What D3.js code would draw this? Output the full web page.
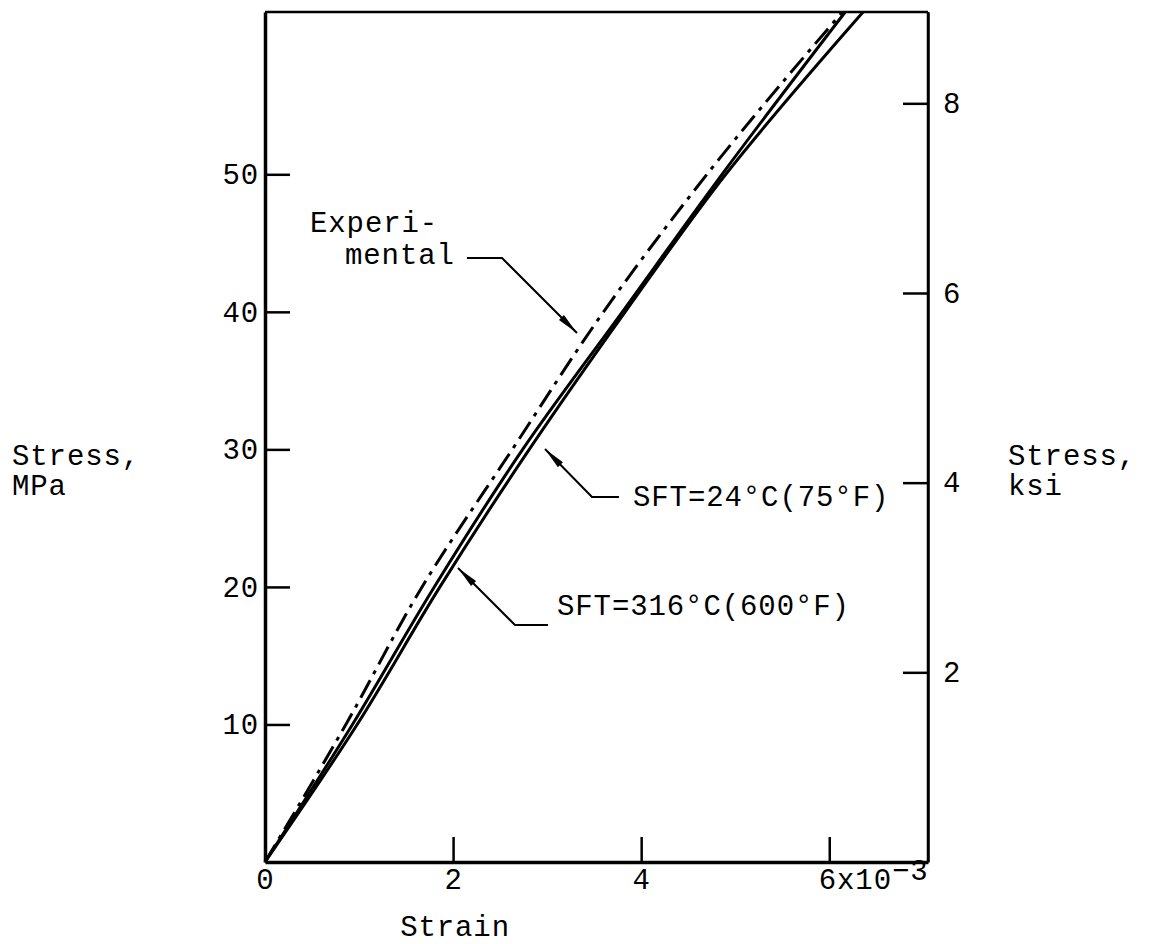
<!DOCTYPE html>
<html>
<head>
<meta charset="utf-8">
<script src="https://cdn.jsdelivr.net/npm/d3@7"></script>
<style>
  body { margin: 0; background: #fff; }
  svg text { font-family: "Liberation Mono", "DejaVu Sans Mono", monospace; font-size: 29px; letter-spacing: 0.9px; fill: #000; }
</style>
</head>
<body>
<svg id="chart" width="1176" height="944"></svg>
<script>
// ---- data (strain in 10^-3, stress in MPa) ----
const strainTicks = [0, 2, 4, 6];
const mpaTicks = [10, 20, 30, 40, 50];
const ksiTicks = [2, 4, 6, 8];

const expStrain = [0, 0.86, 1.67, 2.63, 3.60, 4.70, 6.14];
const expStress = [0, 10, 20, 30, 40, 50, 61.8];

const sft316Strain = [0, 0.93, 1.80, 2.74, 3.80, 4.86, 6.17];
const sft316Stress = [0, 10, 20, 30, 40, 50, 61.8];

const sft24Strain = [0, 0.98, 1.86, 2.81, 3.83, 4.90, 6.36];
const sft24Stress = [0, 10, 20, 30, 40, 50, 61.8];

const MPA_PER_KSI = 6.895;

// ---- layout ----
const svg = d3.select("#chart");
const L = 265, R = 928, T = 12, B = 862;

const x = d3.scaleLinear().domain([0, 7.05]).range([L, R]);
const y = d3.scaleLinear().domain([0, 61.8]).range([B, T]);
const yK = d3.scaleLinear().domain([0, 61.8 / MPA_PER_KSI]).range([B, T]);

// frame
svg.append("line").attr("x1", L).attr("x2", R).attr("y1", T).attr("y2", T).attr("stroke", "#000").attr("stroke-width", 2.5);
svg.append("line").attr("x1", R).attr("x2", R).attr("y1", T).attr("y2", B).attr("stroke", "#000").attr("stroke-width", 2.5);

// axes
const xAxis = d3.axisBottom(x).tickValues(strainTicks).tickSizeInner(-25).tickSizeOuter(0).tickPadding(6).tickFormat(d3.format("d"));
const gx = svg.append("g").attr("transform", `translate(0,${B})`).call(xAxis);
const yAxis = d3.axisLeft(y).tickValues(mpaTicks).tickSizeInner(-25).tickSizeOuter(0).tickPadding(6).tickFormat(d3.format("d"));
const gy = svg.append("g").attr("transform", `translate(${L},0)`).call(yAxis);
const kAxis = d3.axisRight(yK).tickValues(ksiTicks).tickSizeInner(-25).tickSizeOuter(0).tickPadding(15).tickFormat(d3.format("d"));
const gk = svg.append("g").attr("transform", `translate(${R},0)`).call(kAxis);

[gx, gy, gk].forEach(g => {
  g.attr("font-size", null).attr("font-family", null);
  g.selectAll(".tick line").attr("stroke", "#000").attr("stroke-width", 2.5);
  g.select(".domain").attr("stroke", "#000");
});
gx.select(".domain").attr("stroke-width", 3.5);
gy.select(".domain").attr("stroke-width", 3.5);
gk.select(".domain").attr("stroke-width", 2.5);

// last x label "6x10^-3"
gx.selectAll(".tick text").filter(d => d === 6).each(function () {
  const t = d3.select(this);
  t.text(null).attr("text-anchor", "start").attr("x", -11);
  t.append("tspan").text("6x10");
  t.append("tspan").attr("dy", -9).text("\u2212" + "3");
});

// axis titles
svg.append("text").attr("x", (x(0) + x(4)) / 2 + 2).attr("y", 936).attr("text-anchor", "middle").text("Strain");
const lt = svg.append("text").attr("y", 465);
lt.append("tspan").attr("x", 12).text("Stress,");
lt.append("tspan").attr("x", 12).attr("dy", 30).text("MPa");
const rt = svg.append("text").attr("y", 465);
rt.append("tspan").attr("x", 1008).text("Stress,");
rt.append("tspan").attr("x", 1008).attr("dy", 30).text("ksi");

// curves
const line = d3.line().x(d => x(d[0])).y(d => y(d[1])).curve(d3.curveMonotoneY);
const zip = (a, b) => a.map((v, i) => [v, b[i]]);

svg.append("path").datum(zip(sft316Strain, sft316Stress)).attr("d", line)
  .attr("fill", "none").attr("stroke", "#000").attr("stroke-width", 3);
svg.append("path").datum(zip(sft24Strain, sft24Stress)).attr("d", line)
  .attr("fill", "none").attr("stroke", "#000").attr("stroke-width", 3);
svg.append("path").datum(zip(expStrain, expStress)).attr("d", line)
  .attr("fill", "none").attr("stroke", "#000").attr("stroke-width", 3)
  .attr("stroke-dasharray", "20,7,4,7");

// annotations (positions converted to data coordinates)
function leader(points, headLen = 22, headW = 7) {
  const pts = points.map(p => [x(p[0]), y(p[1])]);
  svg.append("path").attr("d", d3.line()(pts)).attr("fill", "none").attr("stroke", "#000").attr("stroke-width", 2);
  const tip = pts[pts.length - 1], prev = pts[pts.length - 2];
  const dx = tip[0] - prev[0], dy = tip[1] - prev[1], len = Math.hypot(dx, dy);
  const ux = dx / len, uy = dy / len;
  const bx = tip[0] - ux * headLen, by = tip[1] - uy * headLen;
  svg.append("path")
    .attr("d", `M${tip[0]},${tip[1]}L${bx - uy * headW / 2},${by + ux * headW / 2}L${bx + uy * headW / 2},${by - ux * headW / 2}Z`)
    .attr("fill", "#000");
}
const sx = p => x.invert(p), sy = p => y.invert(p);

// Experimental
const et = svg.append("text");
et.append("tspan").attr("x", x(sx(310))).attr("y", y(sy(232))).text("Experi-");
et.append("tspan").attr("x", x(sx(345))).attr("y", y(sy(264))).text("mental");
leader([[sx(467), sy(258)], [sx(502), sy(258)], [sx(577), sy(333)]]);

// SFT=24°C
svg.append("text").attr("x", x(sx(633))).attr("y", y(sy(506))).text("SFT=24\u00B0C(75\u00B0F)");
leader([[sx(619), sy(497)], [sx(592), sy(497)], [sx(545), sy(449)]]);

// SFT=316°C
svg.append("text").attr("x", x(sx(557))).attr("y", y(sy(615))).text("SFT=316\u00B0C(600\u00B0F)");
leader([[sx(548), sy(625)], [sx(515), sy(625)], [sx(458), sy(568)]]);
</script>
</body>
</html>
